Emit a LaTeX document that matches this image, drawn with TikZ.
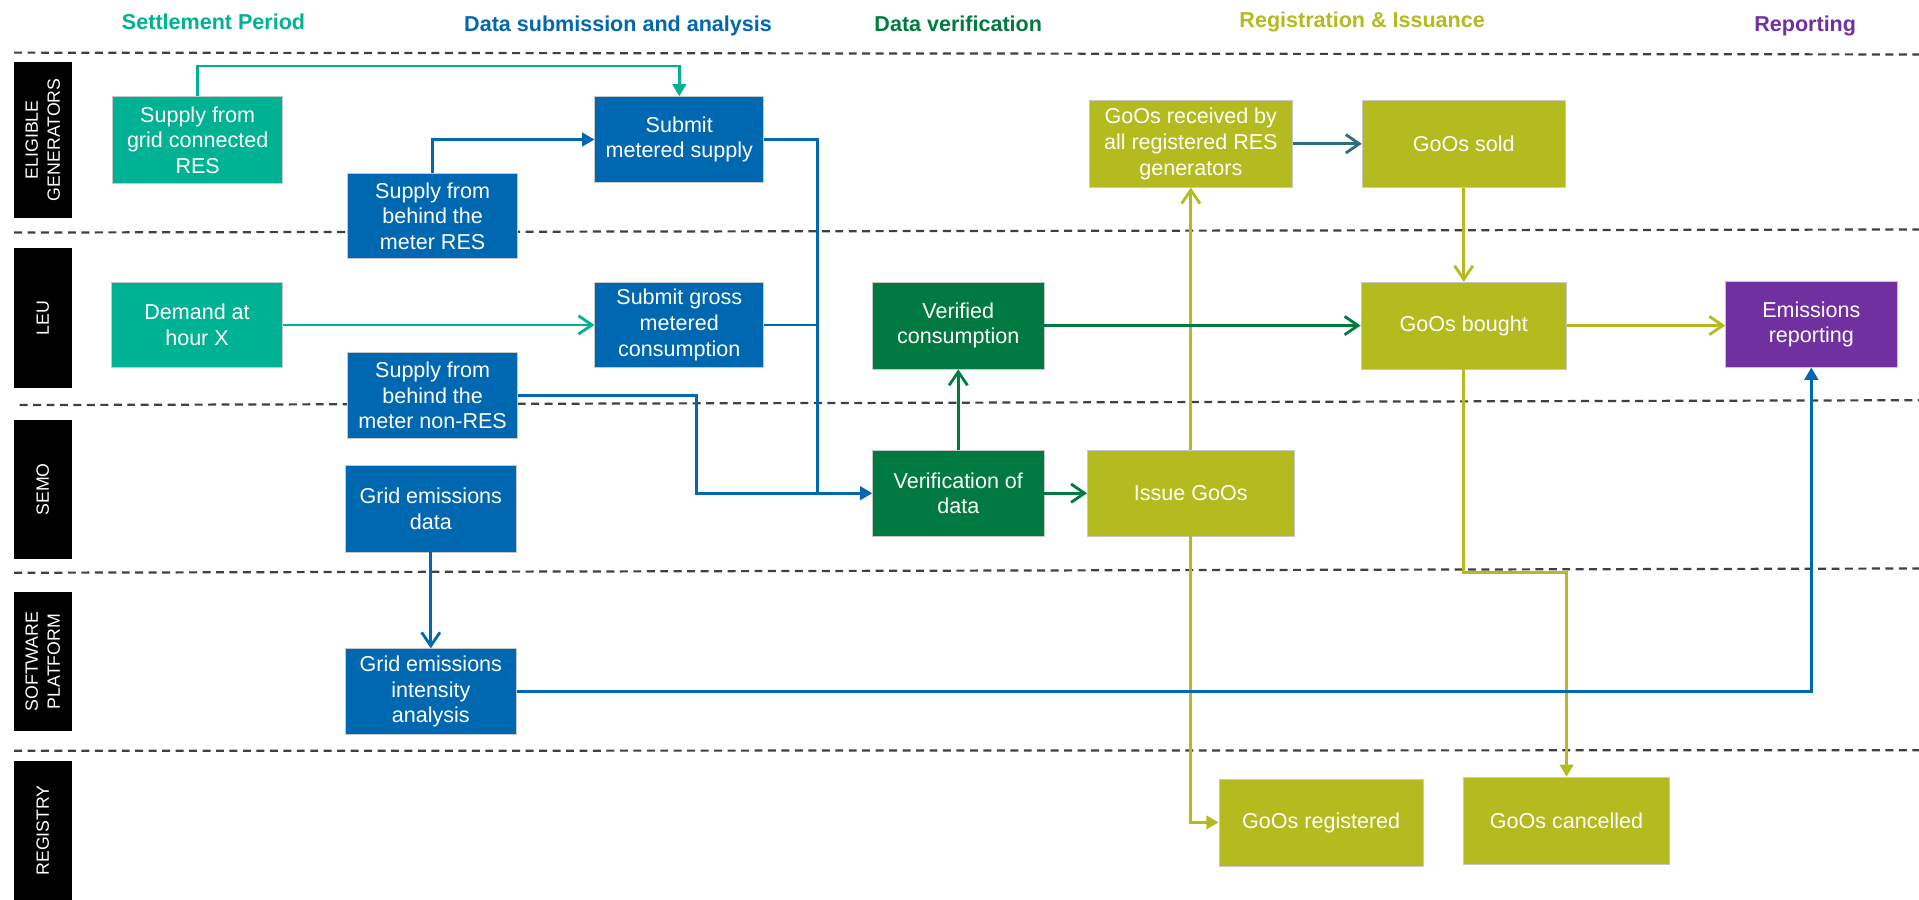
\documentclass[tikz,border=0pt]{standalone}
\usepackage{fontspec}
\setmainfont{Liberation Sans}
\usetikzlibrary{arrows.meta}

\definecolor{cteal}{HTML}{00B294}
\definecolor{cblue}{HTML}{0067B1}
\definecolor{cgreen}{HTML}{007A40}
\definecolor{colive}{HTML}{B3BB1E}
\definecolor{cpurple}{HTML}{7030A0}
\definecolor{cslate}{HTML}{2E6E7E}
\definecolor{cdash}{HTML}{404040}

\begin{document}
\begin{tikzpicture}[x=1pt,y=-1pt,
  box/.style n args={3}{draw=black!22, line width=0.6pt, fill=#1, text=white,
    minimum width=#2, minimum height=#3, inner sep=0pt, align=center,
    font=\fontsize{17.6}{21}\selectfont},
  lane/.style={fill=black, minimum width=47pt, minimum height=#1, inner sep=0pt},
  lanetext/.style={rotate=90, text=white, align=center, inner sep=0pt,
    font=\fontsize{14.5}{18}\selectfont},
  title/.style={font=\bfseries\fontsize{17.6}{21}\selectfont, anchor=base, text=#1, inner sep=0pt},
  sep/.style={draw=cdash, line width=1.8pt, dash pattern=on 6.5pt off 4.5pt},
  flow/.style={line width=2.3pt, draw=#1},
  barb/.style={-{Straight Barb[length=11pt,width=15pt]}},
  tri/.style={-{Triangle[length=10pt,width=11pt]}}
]
\useasboundingbox (0,0) rectangle (1568,735);

% phase headings
\node[title=cteal]   (hSettle) at (174.5,24)  {Settlement Period};
\node[title=cblue]   (hSubmit) at (505,25.5)  {Data submission and analysis};
\node[title=cgreen]  (hVerify) at (783,25.5)  {Data verification};
\node[title=colive]  (hIssue)  at (1113,22.5) {Registration \& Issuance};
\node[title=cpurple] (hReport) at (1475,26)   {Reporting};

% swimlane separators
\draw[sep] (11.5,43)  -- (1568,44.5);
\draw[sep] (11.5,190) -- (1568,187.5);
\draw[sep] (16,331)   -- (1568,327);
\draw[sep] (11.5,468) -- (1568,464.5);
\draw[sep] (11.5,613.5) -- (1568,613);

% swimlane labels
\node[lane=127.5pt] (lEG)  at (35,114.2) {};
\node[lanetext] at (lEG) {ELIGIBLE\\GENERATORS};
\node[lane=114pt]   (lLEU) at (35,260) {};
\node[lanetext] at (lLEU) {LEU};
\node[lane=114pt]   (lSEMO) at (35,400) {};
\node[lanetext] at (lSEMO) {SEMO};
\node[lane=113pt]   (lSW)  at (35,540.5) {};
\node[lanetext] at (lSW) {SOFTWARE\\PLATFORM};
\node[lane=113pt]   (lREG) at (35,678.5) {};
\node[lanetext] at (lREG) {REGISTRY};

% process steps
\node[box={cteal}{139pt}{71pt}]   (grid)     at (161.5,114.5) {Supply from\\grid connected\\RES};
\node[box={cblue}{138pt}{70pt}]   (subsup)   at (555,114)     {Submit\\metered supply};
\node[box={cblue}{139pt}{69pt}]   (btmres)   at (353.5,176.5) {Supply from\\behind the\\meter RES};
\node[box={colive}{166pt}{71pt}]  (recv)     at (973,117.5)   {GoOs received by\\all registered RES\\generators};
\node[box={colive}{166pt}{71pt}]  (sold)     at (1196,117.5)  {GoOs sold};
\node[box={cteal}{140pt}{70pt}]   (demand)   at (161,265.5)   {Demand at\\hour X};
\node[box={cblue}{138pt}{70pt}]   (subgross) at (555,265.5)   {Submit gross\\metered\\consumption};
\node[box={cgreen}{140pt}{71pt}]  (verc)     at (783,266)     {Verified\\consumption};
\node[box={colive}{168pt}{71pt}]  (bought)   at (1196,266)    {GoOs bought};
\node[box={cpurple}{140pt}{70pt}] (emis)     at (1480,265)    {Emissions\\reporting};
\node[box={cblue}{139pt}{70pt}]   (btmnon)   at (353.5,323)   {Supply from\\behind the\\meter non-RES};
\node[box={cblue}{140pt}{71pt}]   (gridem)   at (352,415.5)   {Grid emissions\\data};
\node[box={cgreen}{140pt}{70pt}]  (verd)     at (783,403)     {Verification of\\data};
\node[box={colive}{169pt}{70pt}]  (issue)    at (973,403)     {Issue GoOs};
\node[box={cblue}{140pt}{70pt}]   (gridint)  at (352,565)     {Grid emissions\\intensity\\analysis};
\node[box={colive}{167pt}{71pt}]  (reg)      at (1079.5,672)  {GoOs registered};
\node[box={colive}{168pt}{71pt}]  (canc)     at (1280,670.5)  {GoOs cancelled};

% routing helpers
\coordinate (feedTop) at (0,54);
\coordinate (bus)     at (668,403);
\coordinate (jog)     at (569,0);
\coordinate (cancY)   at (0,468);

% registration and issuance flows
\draw[flow=colive,barb] (issue.north) -- (recv.south);
\draw[flow=cslate,barb] (recv.east) -- (sold.west);
\draw[flow=colive,barb] (sold.south) -- (bought.north);
\draw[flow=colive,barb] (bought.east) -- (bought.east -| emis.west);
\draw[flow=colive,tri]  (issue.south) |- (reg.west);
\draw[flow=colive,tri]  (bought.south) -- (bought.south |- cancY) -| (canc.north);

% verification flows
\draw[flow=cgreen,barb] (verd.north) -- (verc.south);
\draw[flow=cgreen,barb] (verd.east) -- (issue.west);
\draw[flow=cgreen,barb] (verc.east) -- (verc.east -| bought.west);

% settlement and submission flows
\draw[flow=cteal,tri]  (grid.north) -- (grid.north |- feedTop) -| (subsup.north);
\draw[flow=cblue,tri]  (btmres.north) |- (subsup.west);
\draw[flow=cteal,barb] (demand.east) -- (subgross.west);
\draw[flow=cblue,tri]  (subsup.east) -| (bus) -- (verd.west);
\draw[flow=cblue]      (subgross.east) -- (subgross.east -| bus);
\draw[flow=cblue]      (btmnon.east) -| (jog |- bus) -- (bus);
\draw[flow=cblue,barb] (gridem.south) -- (gridint.north);
\draw[flow=cblue,tri]  (gridint.east) -| (emis.south);
\end{tikzpicture}
\end{document}
